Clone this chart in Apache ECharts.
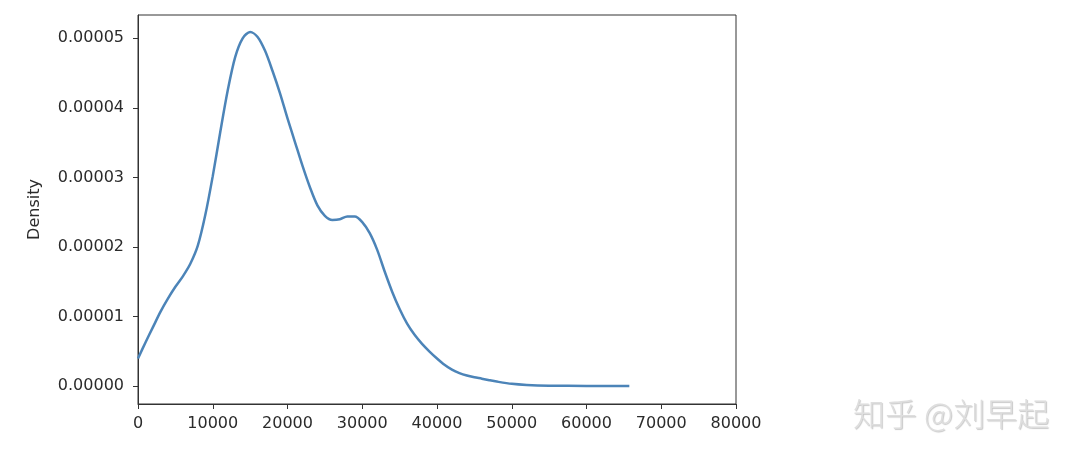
<!DOCTYPE html>
<html>
<head>
<meta charset="utf-8">
<script src="https://cdn.jsdelivr.net/npm/echarts@6/dist/echarts.min.js"></script>
<style>html,body{margin:0;padding:0;background:#fff;}#c{width:1080px;height:461px;}</style>
</head>
<body>
<div id="c"></div>
<script>
// Income values (x) and estimated KDE density (y)
var xValues = [0, 1000, 2000, 3000, 4000, 5000, 6000, 7000, 8000, 9000, 10000, 11000, 12000, 13000, 14000, 15000, 16000, 17000, 18000, 19000, 20000, 21000, 22000, 23000, 24000, 25000, 26000, 27000, 28000, 29000, 30000, 31000, 32000, 33000, 34000, 35000, 36000, 37000, 38000, 39000, 40000, 41000, 42000, 43000, 44000, 45000, 46000, 47000, 48000, 50000, 52000, 55000, 60000, 65730];
var densityValues = [0.40e-5, 0.63e-5, 0.85e-5, 1.07e-5, 1.26e-5, 1.43e-5, 1.58e-5, 1.76e-5, 2.02e-5, 2.46e-5, 3.02e-5, 3.65e-5, 4.25e-5, 4.73e-5, 5.00e-5, 5.09e-5, 5.02e-5, 4.82e-5, 4.53e-5, 4.21e-5, 3.85e-5, 3.51e-5, 3.17e-5, 2.86e-5, 2.60e-5, 2.45e-5, 2.39e-5, 2.40e-5, 2.44e-5, 2.44e-5, 2.36e-5, 2.20e-5, 1.96e-5, 1.65e-5, 1.36e-5, 1.11e-5, 0.90e-5, 0.74e-5, 0.61e-5, 0.50e-5, 0.40e-5, 0.31e-5, 0.24e-5, 0.19e-5, 0.155e-5, 0.13e-5, 0.11e-5, 0.088e-5, 0.068e-5, 0.036e-5, 0.020e-5, 0.010e-5, 0.006e-5, 0.005e-5];
var yTicks = [0, 0.00001, 0.00002, 0.00003, 0.00004, 0.00005];
var xTicks = [0, 10000, 20000, 30000, 40000, 50000, 60000, 70000, 80000];
var yLabel = 'Density';
var watermark = '知乎 @刘早起';

var data = xValues.map(function (x, i) { return [x, densityValues[i]]; });
var chart = echarts.init(document.getElementById('c'), null, {renderer: 'canvas'});
var font = 'DejaVu Sans';
chart.setOption({
  animation: false,
  backgroundColor: '#ffffff',
  grid: {left: 138, right: 344, top: 15, bottom: 57, show: true, borderColor: '#333', borderWidth: 1, backgroundColor: 'transparent'},
  xAxis: {
    type: 'value', min: 0, max: 80000, interval: 10000,
    axisLine: {show: true, onZero: false, lineStyle: {color: '#333', width: 1}},
    axisTick: {show: true, length: 5, lineStyle: {color: '#333'}, customValues: xTicks},
    axisLabel: {color: '#2b2b2b', fontFamily: font, fontSize: 16, margin: 12, customValues: xTicks,
      formatter: function (v) { return String(v); }},
    splitLine: {show: false}
  },
  yAxis: {
    type: 'value', min: -0.00000254, max: 0.00005335,
    name: yLabel, nameLocation: 'middle', nameGap: 95, nameRotate: 90,
    nameTextStyle: {color: '#2b2b2b', fontFamily: font, fontSize: 16},
    axisLine: {show: true, onZero: false, lineStyle: {color: '#333', width: 1}},
    axisTick: {show: true, length: 5, lineStyle: {color: '#333'}, customValues: yTicks},
    axisLabel: {color: '#2b2b2b', fontFamily: font, fontSize: 16, margin: 14, customValues: yTicks,
      formatter: function (v) { return Number(v).toFixed(5); }},
    splitLine: {show: false}
  },
  series: [{
    type: 'line', data: data, showSymbol: false, smooth: 0.3,
    lineStyle: {color: '#4c84b8', width: 2.5}, clip: false
  }],
  graphic: [{
    type: 'text', left: 853, top: 398,
    style: {text: watermark, fontFamily: 'Noto Sans CJK SC', fontWeight: 300, fontSize: 32, fill: '#dedede',
      textShadowColor: 'rgba(0,0,0,0.22)', textShadowBlur: 1, textShadowOffsetX: 1, textShadowOffsetY: 1}
  }]
});
</script>
</body>
</html>
